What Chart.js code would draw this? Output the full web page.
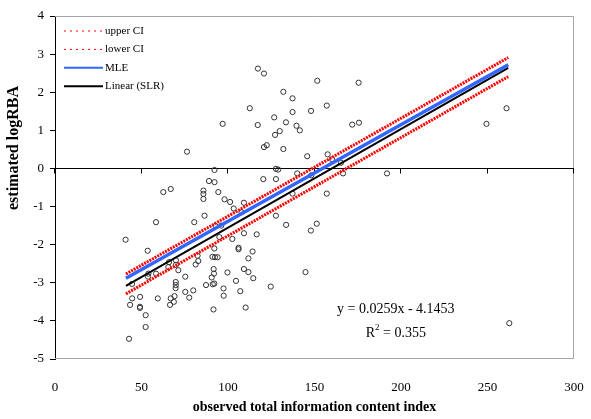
<!DOCTYPE html>
<html>
<head>
<meta charset="utf-8">
<script src="https://cdn.jsdelivr.net/npm/chart.js@4.4.1/dist/chart.umd.min.js"></script>
<style>
  body { margin: 0; background: #fff; }
  #wrap { width: 591px; height: 419px; }
</style>
</head>
<body>
<div id="wrap"><canvas id="fit"></canvas></div>
<script>
// observed points (total information content index, estimated logRBA)
const obsX = [96.9, 76.3, 92.2, 89.0, 92.2, 62.6, 66.9, 85.8, 85.8, 85.8, 94.4, 98.0, 101.2, 103.3, 109.2, 107.8,
  86.4, 58.4, 80.5, 92.8, 96.1, 109.2, 40.8, 102.5, 95.0, 53.6, 106.1, 106.1, 111.8, 82.4, 91.0, 92.5, 94.0,
  92.1, 82.8, 81.3, 69.9, 69.9, 65.9, 65.5, 71.3, 91.7, 109.2, 111.8, 54.0, 53.8, 58.4, 99.7, 91.9, 90.6, 75.3,
  104.6, 92.1, 91.2, 87.3, 69.8, 69.8, 69.7, 44.5, 97.4, 75.3, 79.9, 107.1, 44.6, 49.2, 59.4, 66.9, 69.1, 77.6,
  97.5, 43.4, 49.1, 49.1, 66.5, 68.7, 91.6, 110.2, 52.4, 52.4, 42.8, 117.3, 120.8, 151.6, 132.0, 137.3, 112.6,
  137.3, 148.0, 157.1, 126.7, 133.5, 117.2, 139.6, 141.5, 129.9, 127.2, 120.8, 122.4, 132.0, 145.8, 157.6, 160.2,
  165.3, 127.7, 129.0, 120.4, 127.7, 140.0, 148.2, 166.5, 191.9, 137.3, 157.1, 175.5, 171.8, 175.7, 249.4, 261.0,
  262.6, 127.7, 133.6, 147.9, 151.3, 116.6, 114.2, 114.6, 144.8, 124.7];
const obsY = [1.17, 0.44, -0.04, -0.33, -0.36, -0.62, -0.54, -0.58, -0.67, -0.80, -0.62, -0.81, -0.88, -1.05, -0.90,
  -1.15, -1.24, -1.41, -1.41, -1.51, -1.50, -1.70, -1.87, -1.85, -1.80, -2.16, -2.08, -2.12, -2.36, -2.29, -2.32,
  -2.33, -2.33, -2.10, -2.43, -2.52, -2.41, -2.53, -2.46, -2.59, -2.67, -2.64, -2.64, -2.72, -2.76, -2.84, -2.76,
  -2.73, -2.76, -2.86, -2.84, -2.95, -3.02, -3.04, -3.06, -2.98, -3.06, -3.14, -3.03, -3.15, -3.24, -3.20, -3.22,
  -3.41, -3.37, -3.41, -3.41, -3.35, -3.39, -3.34, -3.58, -3.63, -3.66, -3.58, -3.50, -3.70, -3.65, -3.85, -4.16,
  -4.47, 2.62, 2.49, 2.30, 2.01, 1.84, 1.58, 1.48, 1.51, 1.65, 1.34, 1.21, 1.14, 1.12, 1.00, 0.98, 0.88, 0.56,
  0.61, 0.51, 0.32, 0.37, 0.24, 0.15, -0.01, -0.03, -0.28, -0.28, -0.13, -0.18, -0.13, -0.13, -0.66, -0.66, 2.25,
  1.15, 1.20, 1.17, 1.58, -4.06, -1.24, -1.48, -1.63, -1.45, -1.73, -2.18, -2.88, -2.72, -3.10];

// fitted lines, read at both ends
const fitX = [41, 262];
const upperCI = [-2.77, 2.91];
const lowerCI = [-3.29, 2.41];
const mleY = [-2.88, 2.72];
const slrY = [-3.08, 2.64];

const xTicks = [0, 50, 100, 150, 200, 250, 300];
const yTicks = [-5, -4, -3, -2, -1, 0, 1, 2, 3, 4];
const eqText = "y = 0.0259x - 4.1453";
const r2Text = "0.355";

const pairs = (xs, ys) => xs.map((v, i) => ({ x: v, y: ys[i] }));
const serif = "'Liberation Serif', 'Times New Roman', serif";

const lineSet = (label, ys, color, width, dash) => ({
  label: label,
  data: pairs(fitX, ys),
  showLine: true,
  borderColor: color,
  backgroundColor: color,
  borderWidth: width,
  borderDash: dash,
  pointRadius: 0,
  legendDash: dash.length ? [2, 4] : [],
  legendWidth: dash.length ? 1 : 2,
});

// frame, zero line, legend, equation and y title
const extras = {
  id: "extras",
  beforeDatasetsDraw(chart) {
    const { ctx, chartArea: a, scales: { x, y } } = chart;
    ctx.save();
    ctx.strokeStyle = "#a6a6a6";
    ctx.lineWidth = 1;
    ctx.beginPath();
    ctx.moveTo(a.left, a.top + 0.5);
    ctx.lineTo(a.right - 0.5, a.top + 0.5);
    ctx.lineTo(a.right - 0.5, a.bottom - 0.5);
    ctx.lineTo(a.left, a.bottom - 0.5);
    ctx.stroke();
    const y0 = Math.round(y.getPixelForValue(0)) + 0.5;
    ctx.strokeStyle = "#000";
    ctx.beginPath();
    ctx.moveTo(a.left, y0);
    ctx.lineTo(a.right, y0);
    xTicks.forEach(t => {
      const px = Math.round(x.getPixelForValue(t)) - 0.5;
      ctx.moveTo(px, y0);
      ctx.lineTo(px, y0 + 5);
    });
    ctx.stroke();
    ctx.restore();
  },
  afterDraw(chart) {
    const { ctx, scales: { x, y } } = chart;
    ctx.save();
    // legend
    ctx.font = "11px " + serif;
    ctx.textBaseline = "middle";
    ctx.fillStyle = "#000";
    chart.data.datasets.filter(d => d.showLine).forEach((d, i) => {
      const ly = 31 + i * 18.4;
      ctx.strokeStyle = d.borderColor;
      ctx.lineWidth = d.legendWidth;
      ctx.setLineDash(d.legendDash);
      ctx.beginPath();
      ctx.moveTo(64, ly);
      ctx.lineTo(103, ly);
      ctx.stroke();
      ctx.setLineDash([]);
      ctx.fillText(d.label, 105, ly);
    });
    // trendline equation
    ctx.font = "14px " + serif;
    ctx.textAlign = "center";
    const ex = x.getPixelForValue(197);
    ctx.fillText(eqText, ex, y.getPixelForValue(-3.7));
    const ry = y.getPixelForValue(-4.32);
    const w1 = ctx.measureText("R").width;
    const w3 = ctx.measureText(" = " + r2Text).width;
    ctx.font = "9px " + serif;
    const w2 = ctx.measureText("2").width;
    let sx = ex - (w1 + w2 + w3) / 2;
    ctx.textAlign = "left";
    ctx.fillText("2", sx + w1, ry - 5);
    ctx.font = "14px " + serif;
    ctx.fillText("R", sx, ry);
    ctx.fillText(" = " + r2Text, sx + w1 + w2, ry);
    // y axis title
    ctx.font = "bold 16px " + serif;
    ctx.textAlign = "center";
    ctx.translate(14, 148);
    ctx.rotate(-Math.PI / 2);
    ctx.fillText("estimated logRBA", 0, 0);
    ctx.restore();
  }
};

new Chart(document.getElementById("fit"), {
  type: "scatter",
  data: {
    datasets: [
      lineSet("upper CI", upperCI, "#ff0000", 3, [2, 1]),
      lineSet("lower CI", lowerCI, "#ff0000", 3, [2, 1]),
      lineSet("MLE", mleY, "#3366ff", 3.5, []),
      lineSet("Linear (SLR)", slrY, "#000000", 2, []),
      {
        label: "observed",
        data: pairs(obsX, obsY),
        pointStyle: "circle",
        pointRadius: 2.6,
        pointBorderWidth: 1,
        borderColor: "#333333",
        backgroundColor: "rgba(0,0,0,0)",
      },
    ],
  },
  options: {
    responsive: true,
    maintainAspectRatio: false,
    animation: false,
    layout: { padding: { left: 0, right: 17, top: 16, bottom: 0 } },
    plugins: {
      legend: { display: false },
      tooltip: { enabled: false },
    },
    scales: {
      x: {
        type: "linear",
        min: 0,
        max: 300,
        afterFit: s => { s.height = 60; s.paddingLeft = 0; s.paddingRight = 0; },
        afterBuildTicks: s => { s.ticks = xTicks.map(v => ({ value: v })); },
        grid: { display: false, drawTicks: false },
        border: { display: false },
        ticks: { padding: 21, color: "#000", font: { family: serif, size: 13 } },
        title: {
          display: true,
          text: "observed total information content index",
          color: "#000",
          font: { family: serif, size: 14, weight: "bold" },
          padding: { top: 0, bottom: 3 },
        },
      },
      y: {
        type: "linear",
        min: -5,
        max: 4,
        afterFit: s => { s.width = 55; },
        afterBuildTicks: s => { s.ticks = yTicks.map(v => ({ value: v })); },
        grid: { drawOnChartArea: false, drawTicks: true, tickLength: 5, color: "#000" },
        border: { display: true, color: "#000", width: 1 },
        ticks: { padding: 6, color: "#000", font: { family: serif, size: 13 } },
      },
    },
  },
  plugins: [extras],
});
</script>
</body>
</html>
